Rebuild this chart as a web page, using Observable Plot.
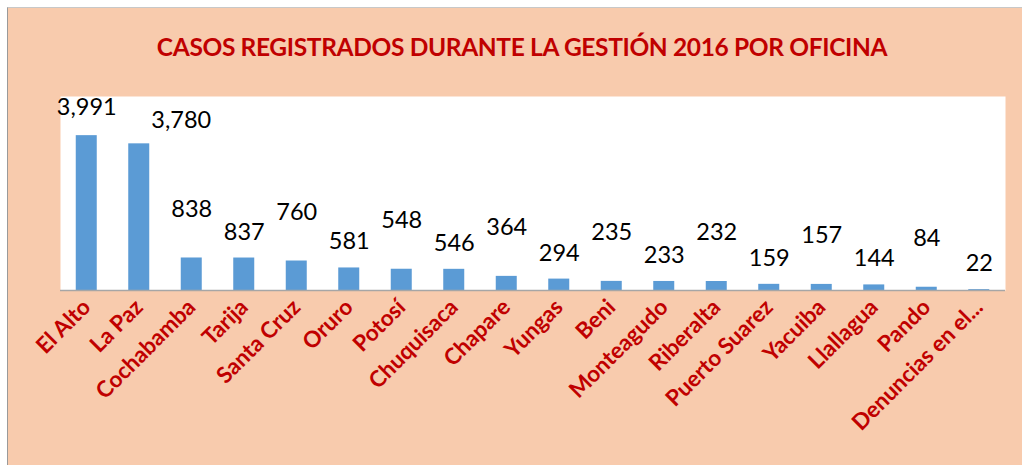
<!DOCTYPE html>
<html>
<head>
<meta charset="utf-8">
<script src="https://cdn.jsdelivr.net/npm/d3@7"></script>
<script src="https://cdn.jsdelivr.net/npm/@observablehq/plot@0.6"></script>
<style>
  html, body { margin: 0; padding: 0; background: #ffffff; }
  #wrap { position: absolute; left: 7px; top: 7px; width: 1014px; height: 457px;
          background: #F8CBAD; border-left: 1px solid #9a9a9a; border-top: 1px solid #c8c8c8; }
  #title { position: absolute; left: 0; top: 24px; width: 1028px; text-align: center;
           font-family: Lato, "Open Sans", sans-serif; font-weight: bold; font-size: 24.5px;
           color: #C00000; letter-spacing: -0.35px; }
  #chart { position: absolute; left: 0; top: 0; }
</style>
</head>
<body>
<div id="wrap">
  <div id="title">CASOS REGISTRADOS DURANTE LA GESTIÓN 2016 POR OFICINA</div>
  <div id="chart"></div>
</div>
<script>
const oficinas = ["El Alto", "La Paz", "Cochabamba", "Tarija", "Santa Cruz", "Oruro", "Potosí",
  "Chuquisaca", "Chapare", "Yungas", "Beni", "Monteagudo", "Riberalta", "Puerto Suarez",
  "Yacuiba", "Llallagua", "Pando", "Denuncias en el..."];
const casos = [3991, 3780, 838, 837, 760, 581, 548, 546, 364, 294, 235, 233, 232, 159, 157, 144, 84, 22];

const data = oficinas.map((o, i) => ({oficina: o, casos: casos[i], i}));
const fmt = d3.format(",");
const labelFont = {fontFamily: "Lato, 'Open Sans', sans-serif", fontSize: 23.5, fill: "#000"};

const chart = Plot.plot({
  width: 1014,
  height: 457,
  marginTop: 88,
  marginBottom: 175,
  marginLeft: 52,
  marginRight: 17,
  style: {background: "transparent", overflow: "visible"},
  x: {domain: oficinas, paddingInner: 0.6, paddingOuter: 0.3, round: false, label: null},
  y: {domain: [0, 5000], axis: null},
  marks: [
    Plot.frame({fill: "white", stroke: "none"}),
    Plot.barY(data, {x: "oficina", y: "casos", fill: "#5B9BD5"}),
    Plot.ruleY([0], {stroke: "#a6a6a6", strokeWidth: 1.5}),
    // Data labels (Excel staggers alternate labels)
    Plot.text(data.filter(d => d.i === 0), {x: "oficina", y: "casos", text: d => fmt(d.casos), dy: -28, ...labelFont}),
    Plot.text(data.filter(d => d.i === 1), {x: "oficina", y: "casos", text: d => fmt(d.casos), dy: -23, dx: 42, ...labelFont}),
    Plot.text(data.filter(d => d.i >= 2 && d.i % 2 === 0), {x: "oficina", y: "casos", text: d => fmt(d.casos), dy: -49, ...labelFont}),
    Plot.text(data.filter(d => d.i >= 2 && d.i % 2 === 1), {x: "oficina", y: "casos", text: d => fmt(d.casos), dy: -26, ...labelFont}),
    Plot.axisX({tickSize: 0, tickRotate: -45, tickPadding: 13, fontSize: 22.5, fontWeight: "bold",
      fill: "#C00000", fontFamily: "Lato, 'Open Sans', sans-serif", label: null})
  ]
});
document.getElementById("chart").appendChild(chart);
</script>
</body>
</html>
